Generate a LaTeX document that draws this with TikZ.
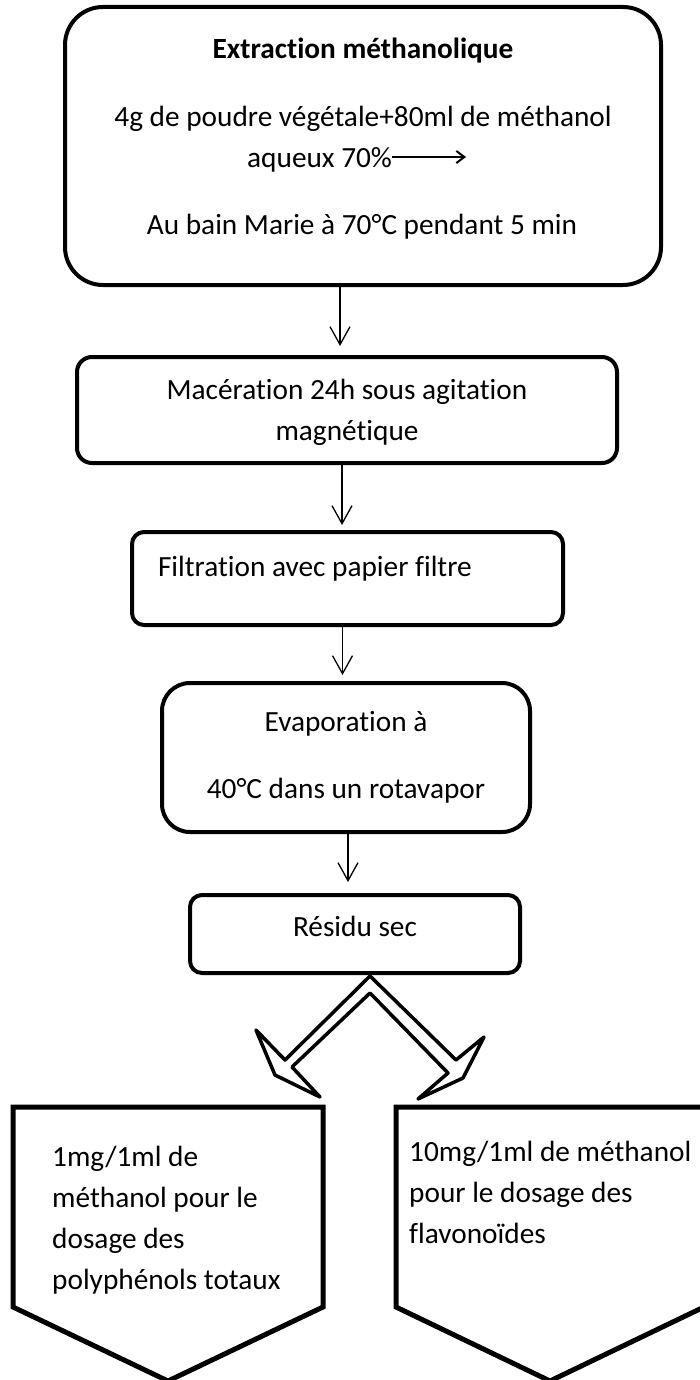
\documentclass[tikz,border=0pt]{standalone}
\usepackage{fontspec}
\setmainfont{Carlito}[Ligatures=NoCommon]
\usetikzlibrary{arrows.meta}

\begin{document}
\begin{tikzpicture}[x=1pt,y=-1pt,
		font=\fontsize{29.3}{41}\selectfont,
		etape/.style={draw=black,line width=4pt},
		fleche/.style={-{Straight Barb[length=18pt,width=20pt]},line width=1.3pt},
		texte/.style={inner sep=0pt,anchor=base},
		pentagone/.style={draw=black,line width=5pt,line join=miter}]
		\fill[white] (0,0) rectangle (700,1380);
		\useasboundingbox (0,0) rectangle (700,1380);
		
		\node[etape,rounded corners=38pt,minimum width=596pt,minimum height=278pt] (extr) at (363,146) {};
		\node[texte] (titre) at (363,59) {\bfseries Extraction méthanolique};
		\node[texte] (poudre) at (363,127) {4g de poudre végétale+80ml de méthanol};
		\node[texte,anchor=base west] (aqueux) at (247,168) {aqueux 70\%};
		\coordinate (aqfin) at (466,157);
		\draw[-{Straight Barb[length=8pt,width=12pt]},line width=2pt] (aqueux.east |- aqfin) -- (aqfin);
		\node[texte] (bain) at (362,235) {Au bain Marie à 70°C pendant 5 min};
		
		\node[etape,rounded corners=15pt,minimum width=540pt,minimum height=106pt,align=center,text depth=0pt] (macer) at (347,410) {Macération 24h sous agitation\\magnétique};
		\node[etape,rounded corners=12pt,minimum height=93pt,text width=379pt,inner xsep=26pt,align=flush left,text depth=24pt] (filtr) at (347.5,578.5) {Filtration avec papier filtre};
		\node[etape,rounded corners=28pt,minimum width=368pt,minimum height=149pt,align=center] (evap) at (346,757.5) {Evaporation à\\[26pt]40°C dans un rotavapor};
		\node[etape,rounded corners=12pt,minimum width=330pt,minimum height=78pt,text depth=16pt] (residu) at (355,934) {Résidu sec};
		
		\draw[fleche,shorten >=9pt] ([xshift=-7pt]macer.north |- extr.south) -- ([xshift=-7pt]macer.north);
		\draw[fleche,shorten >=5pt] ([xshift=-5pt]macer.south) -- ([xshift=-5pt]macer.south |- filtr.north);
		\draw[fleche,shorten >=6pt] ([xshift=-5pt]filtr.south) -- ([xshift=-5pt]filtr.south |- evap.north);
		\draw[fleche,shorten >=11pt] ([xshift=2pt]evap.south) -- ([xshift=2pt]evap.south |- residu.north);
		
		\draw[line width=3.5pt,line join=round,fill=white] (370,976) -- (285,1060) -- (256,1030) -- (275,1075) -- (320,1097) -- (292,1067) -- (370,993) -- (448,1073) -- (418,1099) -- (463,1078) -- (484,1037) -- (456,1060) -- cycle;
		
		\draw[pentagone] (13,1107) -- (323,1107) -- (323,1307) -- (168,1381) -- (13,1307) -- cycle;
		\draw[pentagone] (396,1107) -- (704,1107) -- (704,1307) -- (550,1381) -- (396,1307) -- cycle;
		\node[texte,anchor=north west,align=left] (poly) at (52,1146) {1mg/1ml de\\méthanol pour le\\dosage des\\polyphénols totaux};
		\node[texte,anchor=north west,align=left] (flavo) at (409,1141) {10mg/1ml de méthanol\\pour le dosage des\\flavonoïdes};
	\end{tikzpicture}
\end{document}
